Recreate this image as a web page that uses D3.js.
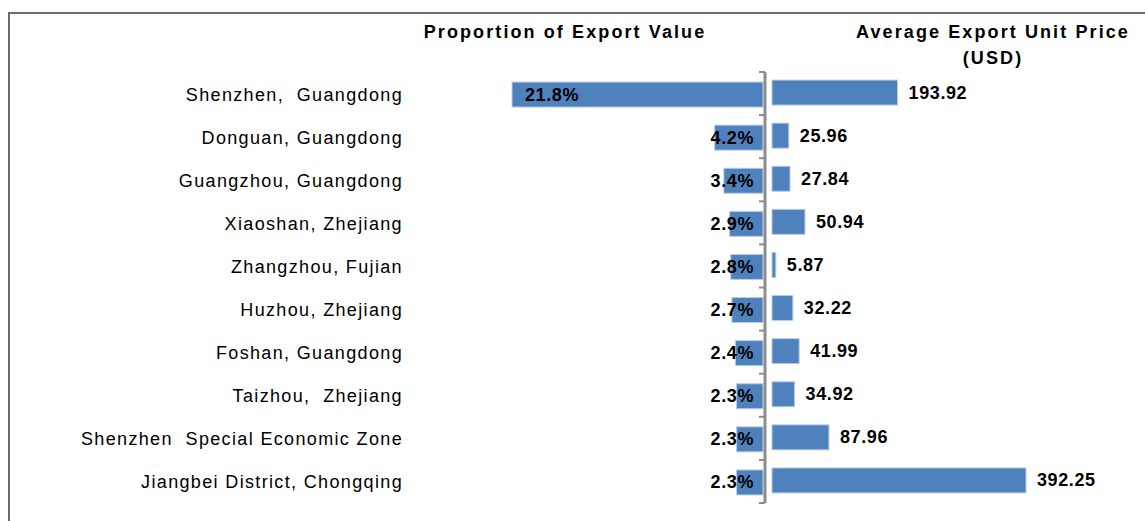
<!DOCTYPE html>
<html>
<head>
  <meta charset="utf-8">
  <script src="https://d3js.org/d3.v7.min.js"></script>
  <style>
    body { margin: 0; background: #fff; }
    svg text { font-family: "Liberation Sans", Arial, sans-serif; white-space: pre; }
    .cat { font-size: 18px; letter-spacing: 1.35px; fill: #000; }
    .title { font-size: 18px; font-weight: bold; letter-spacing: 2.1px; fill: #000; }
    .val { font-size: 18px; font-weight: bold; letter-spacing: 0.6px; fill: #000; }
  </style>
</head>
<body>
  <svg width="1145" height="521"></svg>

  <script>
    // Chart data
    var cities = [
      "Shenzhen,  Guangdong",
      "Donguan, Guangdong",
      "Guangzhou, Guangdong",
      "Xiaoshan, Zhejiang",
      "Zhangzhou, Fujian",
      "Huzhou, Zhejiang",
      "Foshan, Guangdong",
      "Taizhou,  Zhejiang",
      "Shenzhen  Special Economic Zone",
      "Jiangbei District, Chongqing"
    ];
    var shares = [21.8, 4.2, 3.4, 2.9, 2.8, 2.7, 2.4, 2.3, 2.3, 2.3];
    var prices = [193.92, 25.96, 27.84, 50.94, 5.87, 32.22, 41.99, 34.92, 87.96, 392.25];

    var svg = d3.select("svg");

    // Outer frame (runs off the right and bottom edge)
    svg.append("rect")
      .attr("x", 9)
      .attr("y", 13)
      .attr("width", 1200)
      .attr("height", 600)
      .attr("fill", "none")
      .attr("stroke", "#6b6b6b")
      .attr("stroke-width", 2);

    var axisX = 765;
    var yTop = 72, yBottom = 503;

    var y = d3.scaleBand()
      .domain(cities)
      .range([yTop, yBottom])
      .paddingInner(0.42)
      .paddingOuter(0.21);

    // left side: share grows leftwards from the axis
    var xLeft = d3.scaleLinear().domain([0, 21.8]).range([763, 512]);
    // right side: unit price grows rightwards
    var xRight = d3.scaleLinear().domain([0, 392.25]).range([772, 1026]);

    var rows = cities.map((c, i) => ({ city: c, share: shares[i], price: prices[i] }));

    // Left bars
    svg.selectAll("rect.left")
      .data(rows)
      .enter()
      .append("rect")
      .attr("class", "left")
      .attr("x", d => xLeft(d.share))
      .attr("y", d => y(d.city) + 1)
      .attr("width", d => xLeft(0) - xLeft(d.share))
      .attr("height", y.bandwidth())
      .attr("fill", "#4f81bd")
      .attr("stroke", "#b9cde5")
      .attr("stroke-width", 1);

    // Right bars
    svg.selectAll("rect.right")
      .data(rows)
      .enter()
      .append("rect")
      .attr("class", "right")
      .attr("x", xRight(0))
      .attr("y", d => y(d.city) - 1)
      .attr("width", d => xRight(d.price) - xRight(0))
      .attr("height", y.bandwidth())
      .attr("fill", "#4f81bd")
      .attr("stroke", "#b9cde5")
      .attr("stroke-width", 1);

    // Centre axis with ticks on the band boundaries
    var g = svg.append("g").attr("transform", `translate(${axisX},0)`);
    g.append("line")
      .attr("x1", 0).attr("x2", 0)
      .attr("y1", yTop).attr("y2", yBottom)
      .attr("stroke", "#8c8c8c")
      .attr("stroke-width", 3);
    var step = y.step();
    g.selectAll("line.tick-mark")
      .data(d3.range(cities.length + 1))
      .enter()
      .append("line")
      .attr("class", "tick-mark")
      .attr("x1", -6).attr("x2", 0)
      .attr("y1", i => yTop + i * step)
      .attr("y2", i => yTop + i * step)
      .attr("stroke", "#8c8c8c")
      .attr("stroke-width", 2);

    // Category labels
    svg.selectAll("text.cat")
      .data(rows)
      .enter()
      .append("text")
      .attr("class", "cat")
      .attr("x", 403)
      .attr("y", d => y(d.city) + y.bandwidth() / 2 + 7)
      .attr("text-anchor", "end")
      .text(d => d.city);

    // Share labels: inside the bar end, pushed inwards so they never cross the axis
    svg.selectAll("text.share")
      .data(rows)
      .enter()
      .append("text")
      .attr("class", "val share")
      .attr("y", d => y(d.city) + y.bandwidth() / 2 + 7)
      .text(d => d.share.toFixed(1) + "%")
      .attr("x", function(d) {
        var w = this.getComputedTextLength();
        return Math.min(xLeft(d.share) + 13, 754 - w);
      });

    // Price labels
    svg.selectAll("text.price")
      .data(rows)
      .enter()
      .append("text")
      .attr("class", "val price")
      .attr("x", d => xRight(d.price) + 11)
      .attr("y", d => y(d.city) + y.bandwidth() / 2 + 5)
      .text(d => d.price.toFixed(2));

    // Titles
    svg.append("text")
      .attr("class", "title")
      .attr("x", 565)
      .attr("y", 38)
      .attr("text-anchor", "middle")
      .text("Proportion of Export Value");

    svg.append("text")
      .attr("class", "title")
      .attr("x", 993)
      .attr("y", 38)
      .attr("text-anchor", "middle")
      .text("Average Export Unit Price");

    svg.append("text")
      .attr("class", "title")
      .attr("x", 993)
      .attr("y", 64)
      .attr("text-anchor", "middle")
      .text("(USD)");
  </script>
</body>
</html>
